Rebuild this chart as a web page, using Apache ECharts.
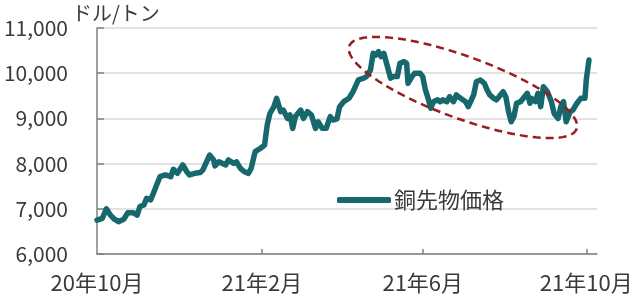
<!DOCTYPE html>
<html>
<head>
<meta charset="utf-8">
<script src="https://cdn.jsdelivr.net/npm/echarts@6/dist/echarts.min.js"></script>
<style>html,body{margin:0;padding:0;background:#fff}#c{width:640px;height:303px}</style>
</head>
<body>
<div id="c"></div>
<script>
const dates = ['2020-10-01','2020-10-05','2020-10-08','2020-10-11','2020-10-14','2020-10-17','2020-10-21','2020-10-24','2020-10-28','2020-10-31',
'2020-11-02','2020-11-05','2020-11-07','2020-11-10','2020-11-12','2020-11-15','2020-11-17','2020-11-21','2020-11-25','2020-11-27','2020-11-30',
'2020-12-04','2020-12-07','2020-12-09','2020-12-13','2020-12-17','2020-12-19','2020-12-24','2020-12-27','2020-12-28','2020-12-31',
'2021-01-05','2021-01-07','2021-01-11','2021-01-13','2021-01-16','2021-01-19','2021-01-22','2021-01-24','2021-01-27','2021-01-31',
'2021-02-03','2021-02-05','2021-02-07','2021-02-10','2021-02-12','2021-02-15','2021-02-17','2021-02-20','2021-02-22','2021-02-24','2021-02-26',
'2021-03-02','2021-03-04','2021-03-07','2021-03-10','2021-03-13','2021-03-15','2021-03-18','2021-03-21','2021-03-24','2021-03-26','2021-03-29','2021-03-31',
'2021-04-03','2021-04-07','2021-04-10','2021-04-14','2021-04-18','2021-04-20','2021-04-23','2021-04-25','2021-04-27','2021-04-29',
'2021-05-01','2021-05-03','2021-05-05','2021-05-08','2021-05-10','2021-05-13','2021-05-15','2021-05-18','2021-05-20','2021-05-21','2021-05-24','2021-05-26','2021-05-30',
'2021-06-01','2021-06-03','2021-06-05','2021-06-07','2021-06-09','2021-06-12','2021-06-14','2021-06-16','2021-06-19','2021-06-21','2021-06-24','2021-06-26','2021-06-29',
'2021-07-03','2021-07-05','2021-07-09','2021-07-11','2021-07-14','2021-07-17','2021-07-19','2021-07-21','2021-07-24','2021-07-26','2021-07-29','2021-07-31',
'2021-08-02','2021-08-04','2021-08-06','2021-08-08','2021-08-10','2021-08-13','2021-08-15','2021-08-18','2021-08-20','2021-08-21','2021-08-24','2021-08-26','2021-08-28','2021-08-30',
'2021-09-02','2021-09-05','2021-09-07','2021-09-10','2021-09-12','2021-09-14','2021-09-16','2021-09-19','2021-09-21','2021-09-24','2021-09-27','2021-09-30',
'2021-10-01','2021-10-03'];

const prices = [6750,6790,7000,6860,6770,6715,6770,6915,6915,6860,
7050,7085,7233,7195,7340,7565,7710,7750,7710,7875,7785,
7970,7820,7750,7785,7805,7860,8190,8080,7950,8040,
7970,8080,8005,8040,7895,7820,7785,7895,8265,8340,
8410,8855,9110,9260,9445,9150,9185,9000,9075,8780,9040,
9185,9000,9150,9075,8780,8925,8780,8780,9040,8965,8990,9260,
9370,9445,9590,9850,9890,9925,10070,10440,10400,10475,
10365,10440,10220,9890,9925,9925,10220,10255,10220,9775,9925,10000,10000,
9925,9630,9445,9225,9370,9410,9370,9410,9370,9480,9370,9520,9450,
9370,9260,9520,9810,9850,9775,9630,9520,9445,9410,9520,9590,
9480,9150,8925,9040,9335,9370,9445,9555,9335,9445,9370,9555,9260,9700,
9590,9370,9110,9000,9260,9370,8925,9150,9185,9335,9445,9445,
9850,10290];

const tickDates = ['2020-10-01','2021-02-01','2021-06-01','2021-10-01'];
const tickLabels = ['20年10月','21年2月','21年6月','21年10月'];
const axisStart = '2020-10-01';
const axisEnd = '2021-10-09';
const seriesName = '銅先物価格';
const unitLabel = 'ドル/トン';
const highlightCenter = ['2021-07-01', 9684];

const day = s => Math.round((Date.parse(s) - Date.parse(axisStart)) / 864e5);
const tickDays = tickDates.map(day);
const FONT = '"Noto Sans CJK JP", sans-serif';
const TEXT = '#3a3a3a';

const chart = echarts.init(document.getElementById('c'), null, {renderer: 'canvas'});
chart.setOption({
  animation: false,
  backgroundColor: '#fff',
  textStyle: {fontFamily: FONT},
  title: {text: unitLabel, left: 72, top: 3, textStyle: {fontSize: 20, fontWeight: 'normal', color: TEXT, fontFamily: FONT}, padding: 0},
  grid: {left: 97, right: 43, top: 28, bottom: 49, containLabel: false},
  legend: {
    left: 337, top: 189, padding: 0, itemGap: 0,
    icon: 'roundRect', itemWidth: 54, itemHeight: 6,
    textStyle: {fontSize: 22, color: TEXT, fontFamily: FONT, padding: [0, 0, 0, -2]},
    data: [seriesName]
  },
  xAxis: {
    type: 'value', min: 0, max: day(axisEnd),
    splitLine: {show: false},
    axisLine: {lineStyle: {color: '#808080', width: 1.5}},
    axisTick: {show: true, inside: true, length: 5, lineStyle: {color: '#808080', width: 1.5}, customValues: tickDays.slice(1)},
    axisLabel: {customValues: tickDays, fontSize: 22, color: TEXT, margin: 18, fontFamily: FONT,
      formatter: v => tickLabels[tickDays.indexOf(Math.round(v))] || ''}
  },
  yAxis: {
    type: 'value', min: 6000, max: 11000, interval: 1000,
    axisLine: {show: true, lineStyle: {color: '#808080', width: 1.5}},
    axisTick: {show: true, inside: true, length: 7, lineStyle: {color: '#808080', width: 1.5}},
    splitLine: {lineStyle: {color: '#d9d9d9', width: 1.5}},
    axisLabel: {fontSize: 21, color: TEXT, margin: 29, fontFamily: FONT, formatter: v => v.toLocaleString('en-US')}
  },
  series: [{
    name: seriesName, type: 'line', symbol: 'none', smooth: false,
    data: dates.map((d, i) => [day(d), prices[i]]),
    lineStyle: {color: '#17686c', width: 5.5, join: 'round', cap: 'round'},
    itemStyle: {color: '#17686c'},
    z: 3
  }]
});

// dashed highlight ellipse around the plateau
const c = chart.convertToPixel({gridIndex: 0}, [day(highlightCenter[0]), highlightCenter[1]]);
const a = 121, b = 31, th = 20 * Math.PI / 180;
const pts = [];
for (let k = 0; k < 120; k++) {
  const t = k / 120 * 2 * Math.PI;
  pts.push([c[0] + a * Math.cos(t) * Math.cos(th) - b * Math.sin(t) * Math.sin(th),
            c[1] + a * Math.cos(t) * Math.sin(th) + b * Math.sin(t) * Math.cos(th)]);
}
chart.setOption({graphic: [{
  type: 'polygon', z: 100, silent: true,
  shape: {points: pts},
  style: {fill: 'none', stroke: '#981d1d', lineWidth: 2.5, lineDash: [8, 5]}
}]});
</script>
</body>
</html>
